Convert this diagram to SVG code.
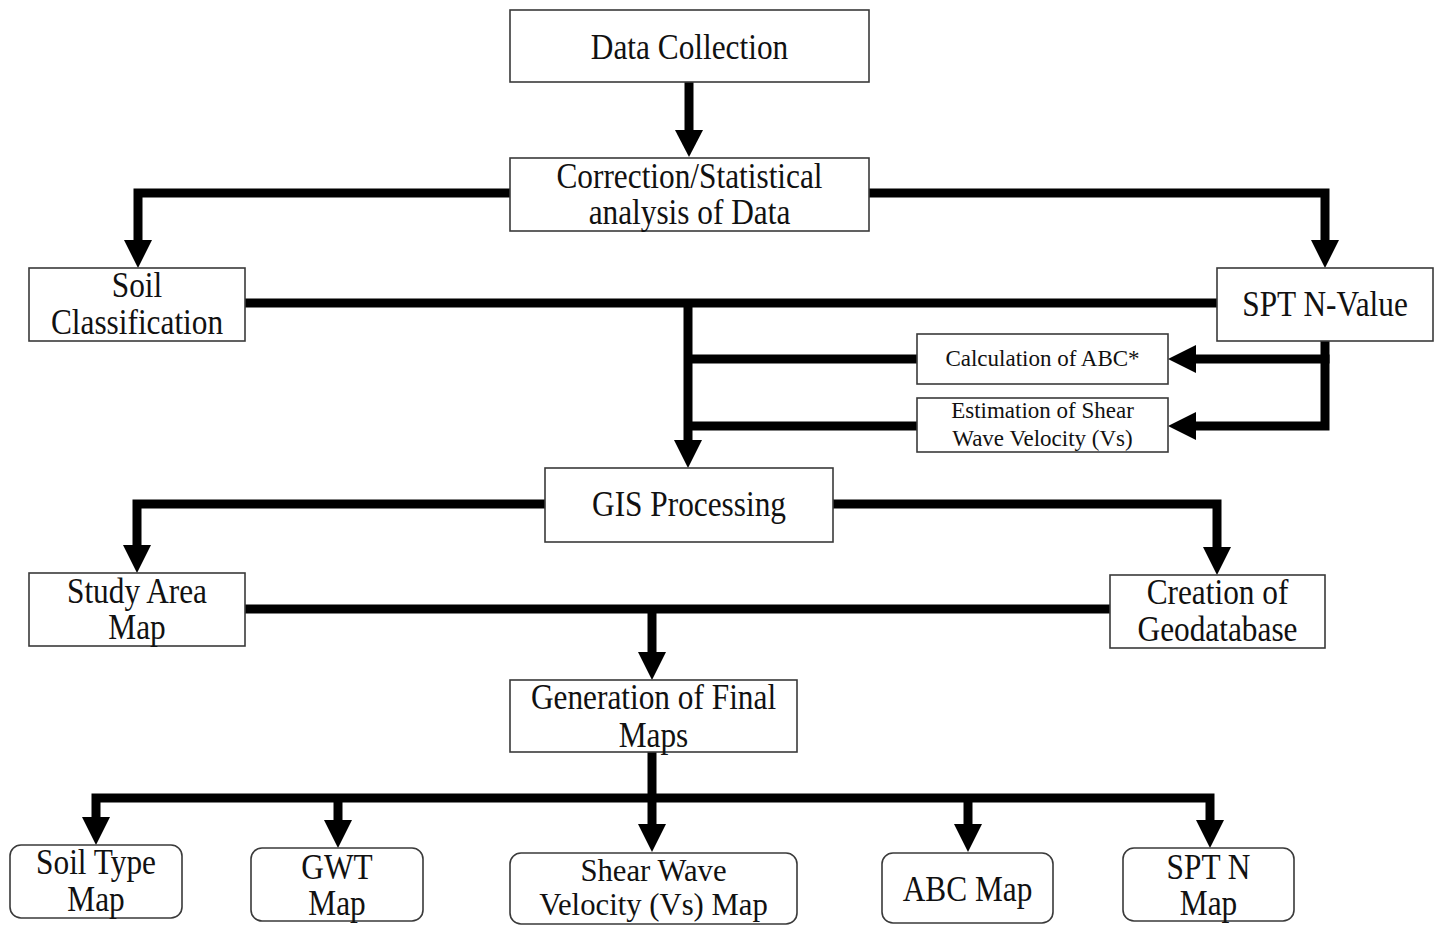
<svg xmlns="http://www.w3.org/2000/svg" width="1441" height="925" viewBox="0 0 1441 925">
<style>
.box{fill:#fff;stroke:#3a3a3a;stroke-width:1.6}
.t{font-family:"Liberation Serif","Times New Roman",serif;font-size:36px;fill:#111;text-anchor:middle}
.t2{font-family:"Liberation Serif","Times New Roman",serif;font-size:32px;fill:#111;text-anchor:middle}
.s{font-family:"Liberation Serif","Times New Roman",serif;font-size:23px;fill:#111;text-anchor:middle}
.ln{fill:none;stroke:#000;stroke-width:9;stroke-linejoin:miter;stroke-linecap:butt}
.ah{fill:#000}
</style>
<rect width="1441" height="925" fill="#fff"/>
<g id="connectors">
  <path class="ln" d="M689 82 V131"/>
  <polygon class="ah" points="675,130 703,130 689,157"/>
  <path class="ln" d="M510 193 H138 V241"/>
  <polygon class="ah" points="124,240 152,240 138,268"/>
  <path class="ln" d="M869 193 H1325 V241"/>
  <polygon class="ah" points="1311,240 1339,240 1325,268"/>
  <path class="ln" d="M245 303 H1217"/>
  <path class="ln" d="M688 299 V441"/>
  <polygon class="ah" points="674,440 702,440 688,468"/>
  <path class="ln" d="M688 359 H917"/>
  <path class="ln" d="M688 426 H917"/>
  <path class="ln" d="M1325 341 V426 H1195"/>
  <path class="ln" d="M1329.5 359 H1195"/>
  <polygon class="ah" points="1196,345 1196,373 1168,359"/>
  <polygon class="ah" points="1196,412 1196,440 1168,426"/>
  <path class="ln" d="M545 504 H137 V546"/>
  <polygon class="ah" points="123,545 151,545 137,573"/>
  <path class="ln" d="M833 504 H1217 V548"/>
  <polygon class="ah" points="1203,547 1231,547 1217,575"/>
  <path class="ln" d="M245 609 H1110"/>
  <path class="ln" d="M652 609 V653"/>
  <polygon class="ah" points="638,652 666,652 652,680"/>
  <path class="ln" d="M652 752 V825"/>
  <polygon class="ah" points="638,824 666,824 652,852"/>
  <path class="ln" d="M96 818 V798 H1210 V821"/>
  <polygon class="ah" points="82,817 110,817 96,845"/>
  <path class="ln" d="M338 798 V821"/>
  <polygon class="ah" points="324,820 352,820 338,848"/>
  <path class="ln" d="M968 798 V825"/>
  <polygon class="ah" points="954,824 982,824 968,852"/>
  <polygon class="ah" points="1196,820 1224,820 1210,848"/>
</g>
<g id="data-collection">
  <rect class="box" x="510" y="10" width="359" height="72"/>
  <text class="t" transform="translate(689.5 59) scale(0.87 1)">Data Collection</text>
</g>
<g id="correction">
  <rect class="box" x="510" y="158" width="359" height="73"/>
  <text class="t" transform="translate(689.5 188) scale(0.87 1)">Correction/Statistical</text>
  <text class="t" transform="translate(689.5 224) scale(0.87 1)">analysis of Data</text>
</g>
<g id="soil-classification">
  <rect class="box" x="29" y="268" width="216" height="73"/>
  <text class="t" transform="translate(137 297) scale(0.87 1)">Soil</text>
  <text class="t" transform="translate(137 334) scale(0.87 1)">Classification</text>
</g>
<g id="spt-n-value">
  <rect class="box" x="1217" y="268" width="216" height="73"/>
  <text class="t" transform="translate(1325 316) scale(0.87 1)">SPT N-Value</text>
</g>
<g id="calc-abc">
  <rect class="box" x="917" y="334" width="251" height="50"/>
  <text class="s" x="1042.5" y="366">Calculation of ABC*</text>
</g>
<g id="estimation-vs">
  <rect class="box" x="917" y="398" width="251" height="54"/>
  <text class="s" x="1042.5" y="418">Estimation of Shear</text>
  <text class="s" x="1042.5" y="446">Wave Velocity (Vs)</text>
</g>
<g id="gis-processing">
  <rect class="box" x="545" y="468" width="288" height="74"/>
  <text class="t" transform="translate(689 516) scale(0.87 1)">GIS Processing</text>
</g>
<g id="study-area-map">
  <rect class="box" x="29" y="573" width="216" height="73"/>
  <text class="t" transform="translate(137 603) scale(0.87 1)">Study Area</text>
  <text class="t" transform="translate(137 639) scale(0.87 1)">Map</text>
</g>
<g id="creation-geodatabase">
  <rect class="box" x="1110" y="575" width="215" height="73"/>
  <text class="t" transform="translate(1217.5 604) scale(0.87 1)">Creation of</text>
  <text class="t" transform="translate(1217.5 641) scale(0.87 1)">Geodatabase</text>
</g>
<g id="generation-final-maps">
  <rect class="box" x="510" y="680" width="287" height="72"/>
  <text class="t" transform="translate(653.5 709) scale(0.87 1)">Generation of Final</text>
  <text class="t" transform="translate(653.5 747) scale(0.87 1)">Maps</text>
</g>
<g id="soil-type-map">
  <rect class="box" x="10" y="845" width="172" height="73" rx="11"/>
  <text class="t" transform="translate(96 874) scale(0.87 1)">Soil Type</text>
  <text class="t" transform="translate(96 911) scale(0.87 1)">Map</text>
</g>
<g id="gwt-map">
  <rect class="box" x="251" y="848" width="172" height="73" rx="11"/>
  <text class="t" transform="translate(337 879) scale(0.87 1)">GWT</text>
  <text class="t" transform="translate(337 915) scale(0.87 1)">Map</text>
</g>
<g id="shear-wave-map">
  <rect class="box" x="510" y="853" width="287" height="71" rx="11"/>
  <text class="t2" transform="translate(653.5 881) scale(0.96 1)">Shear Wave</text>
  <text class="t2" transform="translate(653.5 915) scale(0.96 1)">Velocity (Vs) Map</text>
</g>
<g id="abc-map">
  <rect class="box" x="882" y="853" width="171" height="70" rx="11"/>
  <text class="t" transform="translate(967.5 901) scale(0.87 1)">ABC Map</text>
</g>
<g id="spt-n-map">
  <rect class="box" x="1123" y="848" width="171" height="73" rx="11"/>
  <text class="t" transform="translate(1208.5 879) scale(0.87 1)">SPT N</text>
  <text class="t" transform="translate(1208.5 915) scale(0.87 1)">Map</text>
</g>
</svg>
